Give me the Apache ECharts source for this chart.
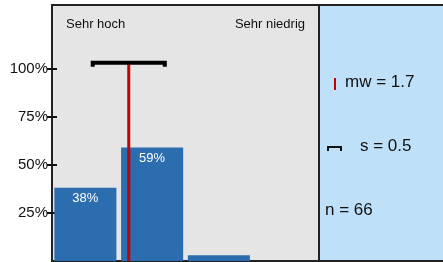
<!DOCTYPE html>
<html>
<head>
    <meta charset="utf-8">
    <title>Verteilung</title>
    <script src="https://cdn.jsdelivr.net/npm/echarts@6.0.0/dist/echarts.min.js"></script>
    <style>
        html, body { margin: 0; padding: 0; background: #fff; }
    </style>
</head>
<body>
    <div id="main" style="width: 443px;height:262px;"></div>

    <script type="text/javascript">
        // Daten
        var categories = ['1', '2', '3', '4'];
        var percents = [38, 59, 3, 0];
        var yTicks = [25, 50, 75, 100];
        var meanValue = 1.65;   // Mittelwert (Anzeige gerundet)
        var sdValue = 0.54;     // Standardabweichung
        var nValue = 66;
        var meanLabel = 'mw = 1.7';
        var sdLabel = 's = 0.5';
        var nLabel = 'n = ' + nValue;
        var scaleLabels = ['Sehr hoch', 'Sehr niedrig'];

        var barColor = '#2b6daf';
        var red = '#c40000';
        var font = 'Liberation Sans, Arial, sans-serif';

        var myChart = echarts.init(document.getElementById('main'));

        var option = {
            animation: false,
            graphic: [
                // rechtes Feld
                {
                    type: 'rect', z: -1,
                    shape: { x: 319, y: 5, width: 130, height: 256 },
                    style: { fill: '#bee0f8', stroke: '#222', lineWidth: 2 }
                },
                {
                    type: 'line',
                    shape: { x1: 335, y1: 78, x2: 335, y2: 90 },
                    style: { stroke: red, lineWidth: 2 }
                },
                {
                    type: 'text', left: 345, top: 74,
                    style: { text: meanLabel, font: '17px ' + font, fill: '#111' }
                },
                {
                    type: 'polyline',
                    shape: { points: [[328, 151], [328, 147], [341, 147], [341, 151]] },
                    style: { stroke: '#111', lineWidth: 2, fill: null }
                },
                {
                    type: 'text', left: 360, top: 138,
                    style: { text: sdLabel, font: '17px ' + font, fill: '#111' }
                },
                {
                    type: 'text', left: 325, top: 202,
                    style: { text: nLabel, font: '17px ' + font, fill: '#111' }
                },
                // Skalenbeschriftung
                {
                    type: 'text', left: 66, top: 18,
                    style: { text: scaleLabels[0], font: '13px ' + font, fill: '#111' }
                },
                {
                    type: 'text', right: 443 - 305, top: 18,
                    style: { text: scaleLabels[1], font: '13px ' + font, fill: '#111' }
                }
            ],
            grid: {
                left: 52, top: 5, width: 267, height: 256,
                show: true,
                backgroundColor: '#e5e5e5',
                borderColor: '#222',
                borderWidth: 2
            },
            xAxis: [
                {
                    type: 'category',
                    data: categories,
                    axisLine: { show: false },
                    axisTick: { show: false },
                    axisLabel: { show: false }
                },
                {
                    type: 'value',
                    min: 0.5, max: 4.5,
                    show: false
                }
            ],
            yAxis: [
                {
                    type: 'value',
                    min: 0, max: 133,
                    axisLine: { show: false },
                    splitLine: { show: false },
                    axisTick: {
                        show: true,
                        length: 5,
                        customValues: yTicks,
                        lineStyle: { color: '#111', width: 2 }
                    },
                    axisLabel: {
                        customValues: yTicks,
                        formatter: '{value}%',
                        color: '#111',
                        fontSize: 15,
                        fontFamily: font,
                        margin: 4
                    }
                },
                {
                    // kurze Striche nach innen
                    type: 'value',
                    position: 'left',
                    min: 0, max: 133,
                    axisLine: { show: false },
                    splitLine: { show: false },
                    axisLabel: { show: false },
                    axisTick: {
                        show: true,
                        inside: true,
                        length: 5,
                        customValues: yTicks,
                        lineStyle: { color: '#111', width: 2 }
                    }
                }
            ],
            series: [
                {
                    type: 'bar',
                    data: percents,
                    barWidth: '93%',
                    itemStyle: { color: barColor },
                    label: {
                        show: true,
                        position: 'insideTop',
                        distance: 4,
                        color: '#fff',
                        fontSize: 13,
                        fontFamily: font,
                        formatter: function (p) { return p.value >= 10 ? p.value + '%' : ''; }
                    }
                },
                {
                    type: 'line',
                    xAxisIndex: 1,
                    data: [[meanValue, 0], [meanValue, 103]],
                    symbol: 'none',
                    lineStyle: { color: red, width: 3 },
                    z: 3
                },
                {
                    type: 'custom',
                    xAxisIndex: 1,
                    data: [[meanValue - sdValue, meanValue + sdValue, 103]],
                    z: 4,
                    renderItem: function (params, api) {
                        var a = api.coord([api.value(0), api.value(2)]);
                        var b = api.coord([api.value(1), api.value(2)]);
                        return {
                            type: 'polyline',
                            shape: { points: [[a[0], a[1] + 4], [a[0], a[1]], [b[0], b[1]], [b[0], b[1] + 4]] },
                            style: { stroke: '#000', lineWidth: 4, fill: null }
                        };
                    }
                }
            ]
        };

        myChart.setOption(option);
    </script>
</body>
</html>
